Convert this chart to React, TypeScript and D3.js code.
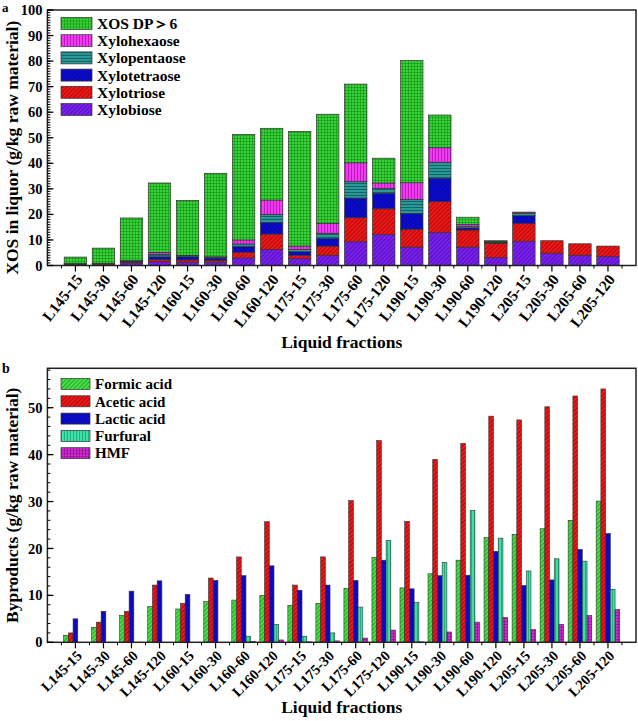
import React from "react";
import * as d3 from "d3";

const categories = ["L145-15","L145-30","L145-60","L145-120","L160-15","L160-30","L160-60","L160-120","L175-15","L175-30","L175-60","L175-120","L190-15","L190-30","L190-60","L190-120","L205-15","L205-30","L205-60","L205-120"];

// Panel a: XOS components (stacked, g/kg raw material)
const xylobiose   = [0.3,0.5,1.0,1.5,1.3,1.3,3.0,6.3,2.7,4.0,9.3,12.1,7.2,13.0,7.2,3.1,9.5,4.8,4.0,3.6];
const xylotriose  = [0.2,0.2,0.4,0.9,0.9,0.7,2.2,6.0,1.3,3.6,9.4,10.1,7.0,12.0,6.7,5.6,7.0,4.9,4.5,4.0];
const xylotetraose= [0.1,0.1,0.3,1.0,1.2,0.9,2.2,4.5,1.4,3.0,7.7,6.1,6.2,9.2,0.8,0.3,3.0,0,0,0];
const xylopentaose= [0.1,0.05,0.1,1.0,0.4,0.3,1.0,3.2,0.9,2.0,6.4,1.9,5.5,6.2,0.5,0.2,0.8,0,0,0];
const xylohexaose = [0.1,0.05,0.1,0.7,0.2,0.2,1.6,5.6,1.3,3.9,7.4,2.1,6.5,5.7,0.9,0.2,0.4,0,0,0];
const xosDP6      = [2.5,5.9,16.7,27.2,21.5,32.7,41.3,28.1,44.9,42.7,30.8,9.7,47.8,12.8,2.8,0.3,0.2,0,0,0];
const xosSeriesNames = ["Xylobiose","Xylotriose","Xylotetraose","Xylopentaose","Xylohexaose","XOS DP＞6"];
const xosYTicks = [0,10,20,30,40,50,60,70,80,90,100];

// Panel b: byproducts (g/kg raw material)
const formicAcid = [1.5,3.2,5.7,7.6,7.1,8.7,9.0,10.0,7.9,8.3,11.5,18.1,11.6,14.6,17.5,22.3,23.0,24.2,26.0,30.1];
const aceticAcid = [2.0,4.3,6.6,12.2,8.3,13.7,18.2,25.7,12.2,18.2,30.2,43.0,25.8,39.0,42.4,48.2,47.4,50.2,52.5,54.0];
const lacticAcid = [5.0,6.6,10.9,13.1,10.2,13.2,14.2,16.3,11.1,12.2,13.2,17.5,11.4,14.2,14.3,19.4,12.1,13.3,19.8,23.2];
const furfural   = [0,0,0,0,0,0,1.3,3.8,1.3,2.0,7.5,21.7,8.5,17.0,28.1,22.2,15.2,17.8,17.3,11.3];
const hmf        = [0,0,0,0,0,0,0.2,0.5,0.1,0.3,0.9,2.6,0.1,2.2,4.3,5.3,2.7,3.8,5.7,7.0];
const byproductNames = ["Formic acid","Acetic acid","Lactic acid","Furfural","HMF"];
const byYTicks = [0,10,20,30,40,50];

const FONT = "'Times New Roman', 'Liberation Serif', serif";

const xosFills = ["url(#pPurple)","url(#pRed)","url(#pBlue)","url(#pTeal)","url(#pMag)","url(#pGreenGrid)"];
const byFills = ["url(#pGreenDiag)","url(#pRed)","url(#pBlue)","url(#pTurq)","url(#pHmf)"];

const W = 638, H = 721;
const left = 47.4, right = 636;

function Patterns() {
  return (
    <defs>
      <pattern id="pGreenGrid" width="3" height="3" patternUnits="userSpaceOnUse">
        <rect width="3" height="3" fill="#3ad23a" />
        <path d="M0 0.3H3M0.3 0V3" stroke="#0d8a0d" strokeWidth="0.7" />
      </pattern>
      <pattern id="pMag" width="3" height="3" patternUnits="userSpaceOnUse">
        <rect width="3" height="3" fill="#f03cf0" />
        <path d="M0.5 0V3" stroke="#b010b0" strokeWidth="0.8" />
      </pattern>
      <pattern id="pTeal" width="3" height="3" patternUnits="userSpaceOnUse">
        <rect width="3" height="3" fill="#1f8f8f" />
        <path d="M0 0.5H3" stroke="#0b5a5a" strokeWidth="0.8" />
        <path d="M0 2H3" stroke="#4fb0b0" strokeWidth="0.5" />
      </pattern>
      <pattern id="pBlue" width="3" height="3" patternUnits="userSpaceOnUse" patternTransform="rotate(45)">
        <rect width="3" height="3" fill="#0c0cd0" />
        <path d="M0 0.5H3" stroke="#04048a" strokeWidth="0.7" />
      </pattern>
      <pattern id="pRed" width="3" height="3" patternUnits="userSpaceOnUse" patternTransform="rotate(-45)">
        <rect width="3" height="3" fill="#ee1a1a" />
        <path d="M0 0.5H3" stroke="#a00000" strokeWidth="0.8" />
      </pattern>
      <pattern id="pPurple" width="3" height="3" patternUnits="userSpaceOnUse" patternTransform="rotate(-45)">
        <rect width="3" height="3" fill="#7a22ee" />
        <path d="M0 0.5H3" stroke="#4a0aa8" strokeWidth="0.8" />
      </pattern>
      <pattern id="pGreenDiag" width="3" height="3" patternUnits="userSpaceOnUse" patternTransform="rotate(-45)">
        <rect width="3" height="3" fill="#4be04b" />
        <path d="M0 0.5H3" stroke="#129a12" strokeWidth="0.8" />
      </pattern>
      <pattern id="pTurq" width="3" height="3" patternUnits="userSpaceOnUse">
        <rect width="3" height="3" fill="#3ee0aa" />
        <path d="M0.5 0V3" stroke="#129a6e" strokeWidth="0.7" />
      </pattern>
      <pattern id="pHmf" width="3" height="3" patternUnits="userSpaceOnUse">
        <rect width="3" height="3" fill="#d02ed0" />
        <path d="M0 0.3H3M0.3 0V3" stroke="#7a007a" strokeWidth="0.6" />
      </pattern>
    </defs>
  );
}

function XAxis({ x, y0, rot, fs }: { x: d3.ScaleLinear<number, number>; y0: number; rot: number; fs: number }) {
  const majors = d3.range(1, 21);
  const minors = d3.range(0.5, 21, 1);
  return (
    <g>
      {minors.map((m) => (
        <line key={"mi" + m} x1={x(m)} x2={x(m)} y1={y0} y2={y0 + 3} stroke="#000" strokeWidth={1} />
      ))}
      {majors.map((m) => (
        <line key={"ma" + m} x1={x(m)} x2={x(m)} y1={y0} y2={y0 + 6} stroke="#000" strokeWidth={1.2} />
      ))}
      {categories.map((c, i) => (
        <text
          key={c}
          transform={`translate(${x(i + 1) + 5},${y0 + 12}) rotate(${rot})`}
          textAnchor="end"
          dominantBaseline="middle"
          fontFamily={FONT}
          fontWeight="bold"
          fontSize={fs}
        >
          {c}
        </text>
      ))}
    </g>
  );
}

function YAxis({ y, ticks, minorStep, maxV }: { y: d3.ScaleLinear<number, number>; ticks: number[]; minorStep: number; maxV: number }) {
  const minors = d3.range(0, maxV + 1e-6, minorStep);
  return (
    <g>
      {minors.map((m) => (
        <line key={"mi" + m} x1={left} x2={left + 3} y1={y(m)} y2={y(m)} stroke="#000" strokeWidth={1} />
      ))}
      {ticks.map((t) => (
        <g key={t}>
          <line x1={left} x2={left + 6} y1={y(t)} y2={y(t)} stroke="#000" strokeWidth={1.3} />
          <text x={left - 5} y={y(t)} dy="0.35em" textAnchor="end" fontFamily={FONT} fontWeight="bold" fontSize={14.5}>
            {t}
          </text>
        </g>
      ))}
    </g>
  );
}

function PanelA() {
  const top = 10, bottom = 265.5;
  const x = d3.scaleLinear().domain([0, 21]).range([left, right]);
  const y = d3.scaleLinear().domain([0, 100]).range([bottom, top]);
  const series = [xylobiose, xylotriose, xylotetraose, xylopentaose, xylohexaose, xosDP6];
  const table = categories.map((c, i) => {
    const row: any = { cat: c };
    series.forEach((s, k) => (row[xosSeriesNames[k]] = s[i]));
    return row;
  });
  const stack = d3.stack<any>().keys(xosSeriesNames)(table);
  const bw = 0.8 * (x(1) - x(0));
  const legendOrder = [5, 4, 3, 2, 1, 0];
  return (
    <g>
      {stack.map((layer, k) =>
        layer.map((d, i) =>
          d[1] - d[0] > 0 ? (
            <rect
              key={k + "-" + i}
              x={x(i + 1) - bw / 2}
              width={bw}
              y={y(d[1])}
              height={y(d[0]) - y(d[1])}
              fill={xosFills[k]}
              stroke="#333"
              strokeWidth={0.7}
            />
          ) : null
        )
      )}
      <rect x={left} y={top} width={right - left} height={bottom - top} fill="none" stroke="#222" strokeWidth={1.5} />
      <YAxis y={y} ticks={xosYTicks} minorStep={1} maxV={100} />
      <XAxis x={x} y0={bottom} rot={-52} fs={15.5} />
      {legendOrder.map((k, j) => (
        <g key={k} transform={`translate(61,${23.5 + j * 17.2})`}>
          <rect x={0} y={-6} width={31} height={12} fill={xosFills[k]} stroke="#333" strokeWidth={0.7} />
          <text x={36} y={0} dy="0.35em" fontFamily={FONT} fontWeight="bold" fontSize={15.5}>
            {xosSeriesNames[k]}
          </text>
        </g>
      ))}
      <text transform={`translate(18,${(top + bottom) / 2 + 10}) rotate(-90)`} textAnchor="middle" fontFamily={FONT} fontWeight="bold" fontSize={17.5}>
        XOS in liquor (g/kg raw material)
      </text>
      <text x={(left + right) / 2} y={348} textAnchor="middle" fontFamily={FONT} fontWeight="bold" fontSize={17.5}>
        Liquid fractions
      </text>
      <text x={2} y={12} fontFamily={FONT} fontWeight="bold" fontSize={13}>a</text>
    </g>
  );
}

function PanelB() {
  const top = 368.3, bottom = 642.3;
  const maxV = 58.4;
  const x = d3.scaleLinear().domain([0, 21]).range([left, right]);
  const y = d3.scaleLinear().domain([0, maxV]).range([bottom, top]);
  const series = [formicAcid, aceticAcid, lacticAcid, furfural, hmf];
  const inner = d3.scaleBand<number>().domain([0, 1, 2, 3, 4]).range([-11.8, 11.8]).padding(0);
  return (
    <g>
      {series.map((s, k) =>
        s.map((v, i) =>
          v > 0 ? (
            <rect
              key={k + "-" + i}
              x={x(i + 1) + (inner(k) as number)}
              width={inner.bandwidth()}
              y={y(v)}
              height={y(0) - y(v)}
              fill={byFills[k]}
              stroke="#333"
              strokeWidth={0.6}
            />
          ) : null
        )
      )}
      <rect x={left} y={top} width={right - left} height={bottom - top} fill="none" stroke="#222" strokeWidth={1.5} />
      <YAxis y={y} ticks={byYTicks} minorStep={2} maxV={58} />
      <XAxis x={x} y0={bottom} rot={-45} fs={14.5} />
      {byproductNames.map((n, j) => (
        <g key={n} transform={`translate(61,${384 + j * 17.3})`}>
          <rect x={0} y={-5.5} width={29} height={11} fill={byFills[j]} stroke="#333" strokeWidth={0.7} />
          <text x={34} y={0} dy="0.35em" fontFamily={FONT} fontWeight="bold" fontSize={15}>
            {n}
          </text>
        </g>
      ))}
      <text transform={`translate(18,${(top + bottom) / 2}) rotate(-90)`} textAnchor="middle" fontFamily={FONT} fontWeight="bold" fontSize={17.5}>
        Byproducts (g/kg raw material)
      </text>
      <text x={(left + right) / 2} y={713} textAnchor="middle" fontFamily={FONT} fontWeight="bold" fontSize={17.5}>
        Liquid fractions
      </text>
      <text x={2} y={373} fontFamily={FONT} fontWeight="bold" fontSize={14}>b</text>
    </g>
  );
}

export default function App() {
  return (
    <div style={{ position: "absolute", left: 0, top: 0 }}>
      <svg width={W} height={H} viewBox={`0 0 ${W} ${H}`} style={{ display: "block", background: "#fff" }}>
        <Patterns />
        <PanelA />
        <PanelB />
      </svg>
    </div>
  );
}
